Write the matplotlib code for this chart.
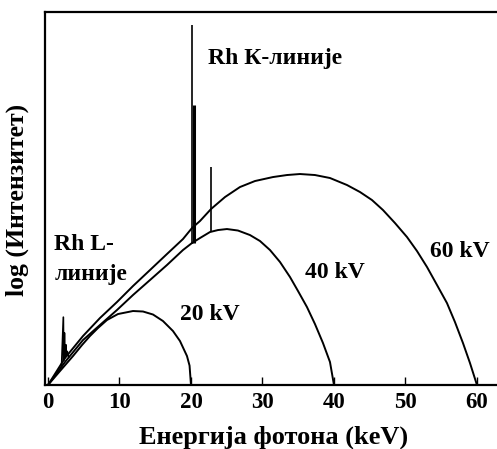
import matplotlib.pyplot as plt

# Continuum curves (energy keV, log intensity in arbitrary units 0-100)
E_20KV = [0, 1.68, 3.50, 4.76, 5.87, 6.99, 8.25, 9.79, 11.89, 13.29, 14.69,
          16.08, 17.48, 18.46, 19.44, 19.80, 20.0]
I_20KV = [0, 3.75, 7.77, 10.72, 13.14, 15.28, 17.43, 19.03, 19.84, 19.71, 18.90,
          17.16, 14.48, 11.80, 7.77, 5.20, 0]

E_40KV = [0, 2.38, 4.90, 7.27, 9.65, 11.89, 14.27, 16.64, 18.88, 20.14, 21.26,
          22.66, 23.78, 25.03, 26.57, 28.25, 29.65, 31.05, 32.45, 33.85, 34.97,
          36.22, 37.34, 38.46, 39.44, 40.0]
I_40KV = [0, 6.17, 12.06, 16.09, 20.11, 24.13, 28.15, 32.17, 36.19, 38.07, 39.41,
          41.02, 41.55, 41.82, 41.42, 40.21, 38.61, 36.19, 32.98, 28.95, 25.20,
          20.91, 16.35, 11.26, 6.17, 0]

E_60KV = [0, 2.38, 4.90, 7.27, 9.65, 11.89, 14.27, 16.64, 18.88, 20.14, 21.26,
          22.80, 24.76, 26.85, 28.95, 31.47, 33.43, 35.24, 37.34, 39.44, 41.82,
          43.64, 45.31, 46.85, 48.53, 50.21, 51.61, 53.01, 54.41, 55.80, 56.92,
          58.04, 59.02, 60.0]
I_60KV = [0, 7.24, 13.14, 17.96, 22.25, 26.54, 30.83, 35.12, 39.14, 42.09, 43.97,
          47.18, 50.40, 53.08, 54.69, 55.76, 56.30, 56.57, 56.30, 55.50, 53.62,
          51.74, 49.60, 46.92, 43.43, 39.68, 35.92, 31.64, 26.81, 21.98, 16.89,
          11.26, 5.90, 0]

# Rh L lines (jagged cluster near 2-3 keV)
E_RH_L = [1.9, 2.15, 2.2, 2.3, 2.4, 2.5, 2.6, 2.7, 2.9]
I_RH_L = [5.0, 18.2, 6.6, 14.0, 7.3, 10.8, 7.8, 9.0, 7.6]

# Rh K lines: energy, base and top of each line, line width
E_RH_K = [20.2, 20.4, 22.8]
BASE_RH_K = [37.9, 38.2, 41.0]
TOP_RH_K = [96.5, 75.0, 58.4]
LW_RH_K = [1.2, 2.2, 1.2]

XTICKS = [0, 10, 20, 30, 40, 50, 60]

SERIF = "Liberation Serif"


def main() -> None:
    fig = plt.figure(figsize=(4.97, 4.49), dpi=100)
    fig.patch.set_facecolor("white")
    ax = fig.add_axes([0.0905, 0.1425, 0.9095, 0.8307])

    for e, i in [(E_20KV, I_20KV), (E_40KV, I_40KV), (E_60KV, I_60KV)]:
        ax.plot(e, i, color="black", lw=1.4, solid_joinstyle="round")

    ax.plot(E_RH_L, I_RH_L, color="black", lw=1.2)
    for e, b, t, lw in zip(E_RH_K, BASE_RH_K, TOP_RH_K, LW_RH_K):
        ax.plot([e, e], [b, t], color="black", lw=lw, solid_capstyle="butt")

    ax.set_xlim(-0.42, 62.8)
    ax.set_ylim(0, 100)
    ax.set_xticks(XTICKS)
    ax.set_xticklabels([str(t) for t in XTICKS], fontfamily=SERIF,
                       fontweight="bold", fontsize=16.5)
    ax.tick_params(axis="x", direction="in", length=6, width=1, pad=5)
    ax.set_yticks([])
    ax.spines["right"].set_visible(False)
    for s in ["top", "left", "bottom"]:
        ax.spines[s].set_linewidth(1.6)

    txt = dict(fontfamily=SERIF, fontweight="bold", fontsize=17, va="baseline", ha="left")
    ax.text(22.4, 86.1, "Rh К-линије", **txt)
    ax.text(18.5, 17.4, "20 kV", **txt)
    ax.text(35.9, 28.7, "40 kV", **txt)
    ax.text(53.4, 34.3, "60 kV", **txt)
    ax.text(0.9, 36.2, "Rh L-", **txt)
    ax.text(0.9, 28.2, "линије", **txt)

    fig.text(17 / 497, 1 - 200 / 449, "log (Интензитет)", rotation=90,
             ha="center", va="center", fontfamily=SERIF, fontweight="bold", fontsize=18.5)
    fig.text(274 / 497, 1 - 437 / 449, "Енергија фотона (keV)",
             ha="center", va="center", fontfamily=SERIF, fontweight="bold", fontsize=19)

    fig.savefig("out.png", dpi=100, facecolor="white")
    plt.close(fig)


if __name__ == "__main__":
    main()
